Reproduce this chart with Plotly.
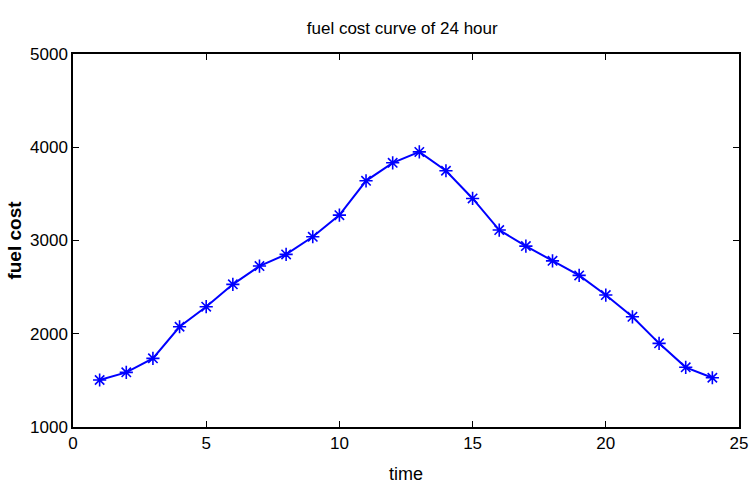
import plotly.graph_objects as go

hours = list(range(1, 25))
fuel_cost = [1504, 1586, 1736, 2075, 2290, 2530, 2726, 2851, 3040, 3272, 3640, 3833,
             3950, 3748, 3451, 3112, 2940, 2782, 2626, 2415, 2182, 1897, 1640, 1528]

title_text = "fuel cost curve of 24 hour"
x_label = "time"
y_label = "fuel cost"
x_ticks = [0, 5, 10, 15, 20, 25]
y_ticks = [1000, 2000, 3000, 4000, 5000]

narrow = "Liberation Sans Narrow, Arial Narrow, Liberation Sans, Arial, sans-serif"

fig = go.Figure()
fig.add_trace(go.Scatter(
    x=hours, y=fuel_cost, mode="lines+markers",
    line=dict(color="#0000FF", width=2),
    marker=dict(symbol="asterisk-open", size=11, color="#0000FF",
                line=dict(color="#0000FF", width=1.6)),
    showlegend=False,
))

axis_common = dict(
    showline=True, linecolor="black", linewidth=1.5, mirror="ticks",
    ticks="inside", ticklen=6, tickcolor="black", tickwidth=1,
    showgrid=False, zeroline=False, automargin=False,
    tickfont=dict(family=narrow, size=17, color="black"),
)

fig.update_layout(
    width=749, height=488,
    margin=dict(l=73, r=10, t=54, b=61, autoexpand=False),
    paper_bgcolor="white", plot_bgcolor="white",
    title=dict(text=title_text, x=0.537, xanchor="center", y=0.943, yanchor="middle",
               font=dict(family=narrow, size=17, color="black")),
    xaxis=dict(range=[0, 25], tickvals=x_ticks, title=dict(text=x_label, standoff=15,
               font=dict(family=narrow, size=18, color="black")), **axis_common),
    yaxis=dict(range=[1000, 5000], tickvals=y_ticks, ticklabelstandoff=0,
               title=dict(text=y_label, standoff=3,
               font=dict(family="Liberation Sans, Arial, sans-serif", size=19, color="black",
                         weight="bold")), **axis_common),
)

fig.write_html("out.html", config={"displayModeBar": False},
               post_script="document.body.style.margin='0';document.body.style.overflow='hidden';")
